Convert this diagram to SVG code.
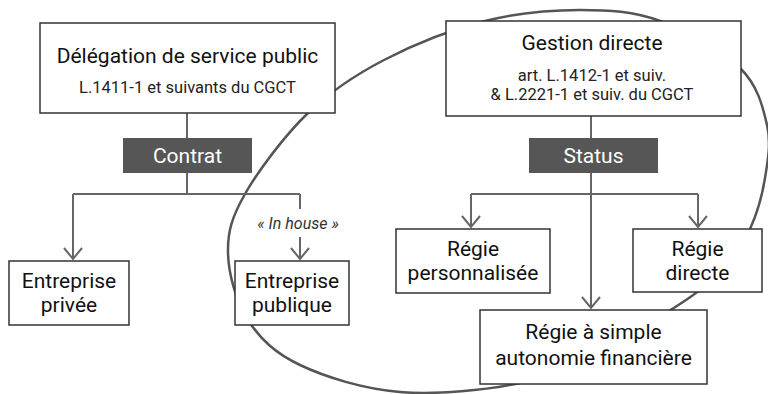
<svg xmlns="http://www.w3.org/2000/svg" width="768" height="394" viewBox="0 0 768 394">
<defs>
<marker id="arr" viewBox="0 0 14 20" refX="12" refY="10" markerWidth="14" markerHeight="20" markerUnits="userSpaceOnUse" orient="auto">
<path d="M1,1 L12,10 L1,19" fill="none" stroke="#666" stroke-width="2"/>
</marker>
<style>
.box{fill:#fff;stroke:#333;stroke-width:1.5}
.lab{fill:#565656}
.t{font-family:Roboto,"Liberation Sans",sans-serif;fill:#111;text-anchor:middle}
.big{font-size:21px}
.sm{font-size:16.5px;fill:#222}
.w{fill:#fff}
.it{font-style:italic;font-size:16px;fill:#333}
.c{fill:none;stroke:#666;stroke-width:2}
</style>
</defs>
<rect width="768" height="394" fill="#fff"/>
<path id="ellipse" fill="none" stroke="#555" stroke-width="2.5" d="M580,10 C609.2,10 633.3,11.3 660,21 C686.7,30.7 722.2,50.7 740,68 C757.8,85.3 762.8,106.7 767,125 C771.2,143.3 767.8,160.7 765,178 C762.2,195.3 756.8,214.3 750,229 C743.2,243.7 734.7,254.2 724,266 C713.3,277.8 706.7,286 686,300 C665.3,314 627.7,336.2 600,350 C572.3,363.8 553.3,376 520,383 C486.7,390 436.7,395 400,392 C363.3,389 325.3,377 300,365 C274.7,353 260,338.7 248,320 C236,301.3 228.5,274 228,253 C227.5,232 231.7,217.3 245,194 C258.3,170.7 284.8,135.3 308,113 C331.2,90.7 354.5,75.3 384,60 C413.5,44.7 452.3,29.3 485,21 C517.7,12.7 550.8,10 580,10 Z"/>
<g id="connectors">
<path class="c" d="M187,113 V138 M187,173 V194 M73,194 H300 M300,194 V209"/>
<path class="c" d="M73,194 V259" marker-end="url(#arr)"/>
<path class="c" d="M300,237 V259" marker-end="url(#arr)"/>
<path class="c" d="M591,116 V138 M591,173 V194 M471,194 H698"/>
<path class="c" d="M471,194 V227" marker-end="url(#arr)"/>
<path class="c" d="M698,194 V227" marker-end="url(#arr)"/>
<path class="c" d="M591,194 V308" marker-end="url(#arr)"/>
<text class="t it" x="298" y="229">« In house »</text>
</g>
<g id="dsp">
<rect class="box" x="40" y="23" width="295" height="90"/>
<text class="t big" x="187.5" y="62.5">Délégation de service public</text>
<text class="t sm" x="187.5" y="92.5">L.1411-1 et suivants du CGCT</text>
</g>
<g id="contrat">
<rect class="lab" x="123" y="138" width="129" height="35"/>
<text class="t big w" x="187.5" y="163">Contrat</text>
</g>
<g id="privee">
<rect class="box" x="9" y="261" width="120" height="64"/>
<text class="t big" x="69" y="288">Entreprise</text>
<text class="t big" x="69" y="312">privée</text>
</g>
<g id="publique">
<rect class="box" x="235" y="261" width="114" height="64"/>
<text class="t big" x="292" y="288">Entreprise</text>
<text class="t big" x="292" y="312">publique</text>
</g>
<g id="gestion">
<rect class="box" x="446" y="21" width="295" height="95"/>
<text class="t big" x="592" y="50">Gestion directe</text>
<text class="t sm" x="592" y="81">art. L.1412-1 et suiv.</text>
<text class="t sm" x="592" y="100">&amp; L.2221-1 et suiv. du CGCT</text>
</g>
<g id="status">
<rect class="lab" x="529" y="138" width="129" height="35"/>
<text class="t big w" x="593.5" y="163">Status</text>
</g>
<g id="personnalisee">
<rect class="box" x="396" y="229" width="154" height="64"/>
<text class="t big" x="473" y="256">Régie</text>
<text class="t big" x="473" y="280">personnalisée</text>
</g>
<g id="directe">
<rect class="box" x="633" y="229" width="129" height="63"/>
<text class="t big" x="697.5" y="256">Régie</text>
<text class="t big" x="697.5" y="280">directe</text>
</g>
<g id="simple">
<rect class="box" x="480" y="310" width="227" height="74"/>
<text class="t big" x="593.5" y="339">Régie à simple</text>
<text class="t big" x="593.5" y="365">autonomie financière</text>
</g>
</svg>
